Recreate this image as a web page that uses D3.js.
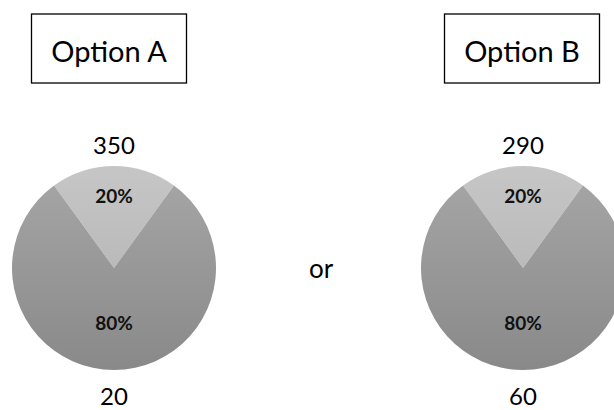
<!DOCTYPE html>
<html>
<head>
<meta charset="utf-8">
<script src="https://cdn.jsdelivr.net/npm/d3@7"></script>
<style>
  html, body { margin: 0; padding: 0; background: #fff; }
  svg { display: block; }
  text { font-family: "Lato", "Open Sans", sans-serif; }
</style>
</head>
<body>
<div class="container"></div>
<script>
const width = 614;
const height = 410;

// data
const options = ["Option A", "Option B"];
const sliceNames = ["minor", "major"];
const sliceShares = [20, 80];
const topValues = [350, 290];
const bottomValues = [20, 60];
const separator = "or";

const pieRadius = 102;
const pieCenterY = 268;

const x = d3.scalePoint().domain(options).range([114, 523]);
const boxX = d3.scalePoint().domain(options).range([109, 522]);

const svg = d3.select(".container")
  .append("svg")
  .attr("width", width)
  .attr("height", height)
  .attr("viewBox", `0 0 ${width} ${height}`);

const defs = svg.append("defs");
const grad = defs.append("linearGradient")
  .attr("id", "darkGrad")
  .attr("x1", 0).attr("y1", 0).attr("x2", 0).attr("y2", 1);
grad.append("stop").attr("offset", "0%").attr("stop-color", "#a4a4a4");
grad.append("stop").attr("offset", "100%").attr("stop-color", "#898989");
const lgrad = defs.append("linearGradient")
  .attr("id", "lightGrad")
  .attr("x1", 0).attr("y1", 0).attr("x2", 0).attr("y2", 1);
lgrad.append("stop").attr("offset", "0%").attr("stop-color", "#c6c6c6");
lgrad.append("stop").attr("offset", "100%").attr("stop-color", "#bababa");

const color = d3.scaleOrdinal().domain(sliceNames).range(["url(#lightGrad)", "url(#darkGrad)"]);

// first slice sits centred on the top
const startA = -Math.PI * sliceShares[0] / 100;
const pie = d3.pie().sort(null).startAngle(startA).endAngle(startA + 2 * Math.PI);
const arcs = pie(sliceShares);
const arc = d3.arc().innerRadius(0).outerRadius(pieRadius);
const labelRadius = [73, 54];

options.forEach((opt, i) => {
  // title box
  const bw = 155, bh = 69;
  svg.append("rect")
    .attr("x", boxX(opt) - bw / 2)
    .attr("y", 14)
    .attr("width", bw)
    .attr("height", bh)
    .attr("fill", "#fff")
    .attr("stroke", "#000")
    .attr("stroke-width", 1.3);
  svg.append("text")
    .attr("x", boxX(opt))
    .attr("y", 50)
    .attr("text-anchor", "middle")
    .attr("dominant-baseline", "central")
    .style("font-size", "29px")
    .attr("fill", "#000")
    .text(opt);

  const g = svg.append("g").attr("transform", `translate(${x(opt)},${pieCenterY})`);
  g.selectAll("path")
    .data(arcs)
    .join("path")
    .attr("d", arc)
    .attr("fill", (d, j) => color(sliceNames[j]));

  g.selectAll("text.pct")
    .data(arcs)
    .join("text")
    .attr("class", "pct")
    .attr("transform", (d, j) => {
      const a = d3.arc().innerRadius(labelRadius[j]).outerRadius(labelRadius[j]);
      return `translate(${a.centroid(d)})`;
    })
    .attr("text-anchor", "middle")
    .attr("dominant-baseline", "central")
    .style("font-size", "19px")
    .style("font-weight", "bold")
    .attr("fill", "#111")
    .text(d => d.value + "%");

  // value above / below
  svg.append("text")
    .attr("x", x(opt))
    .attr("y", pieCenterY - pieRadius - 22)
    .attr("text-anchor", "middle")
    .attr("dominant-baseline", "central")
    .style("font-size", "24px")
    .attr("fill", "#000")
    .text(topValues[i]);
  svg.append("text")
    .attr("x", x(opt))
    .attr("y", pieCenterY + pieRadius + 25)
    .attr("text-anchor", "middle")
    .attr("dominant-baseline", "central")
    .style("font-size", "24px")
    .attr("fill", "#000")
    .text(bottomValues[i]);
});

svg.append("text")
  .attr("x", 321)
  .attr("y", pieCenterY)
  .attr("text-anchor", "middle")
  .attr("dominant-baseline", "central")
  .style("font-size", "26px")
  .attr("fill", "#000")
  .text(separator);
</script>
</body>
</html>
